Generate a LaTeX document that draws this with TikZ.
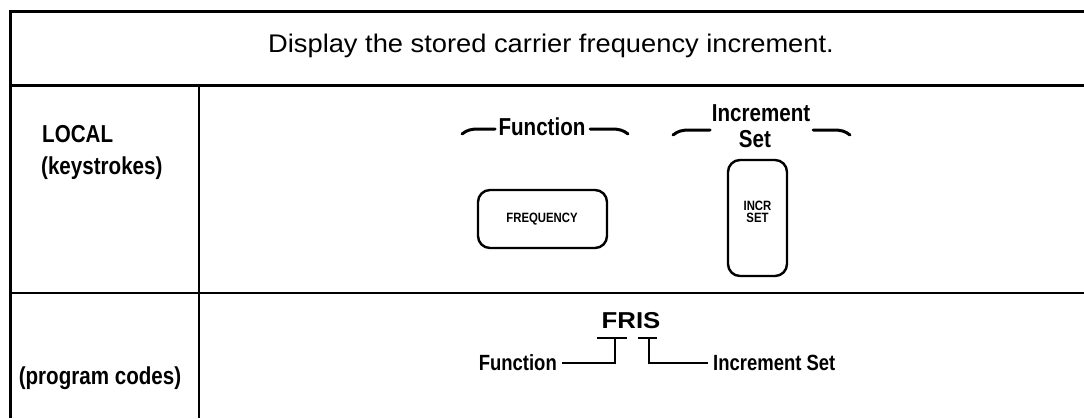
\documentclass[tikz,border=0pt]{standalone}
\usepackage{fontspec}
\setmainfont{Liberation Sans}
\newfontfamily\cf[FakeStretch=0.84]{Liberation Sans}
\newfontfamily\wf[FakeStretch=1.12]{Liberation Sans}
\newfontfamily\tf[FakeStretch=1.07]{Liberation Sans}
\begin{document}
\begin{tikzpicture}[x=1pt,y=-1pt,
  rulel/.style={line width=3pt},
  thinrule/.style={line width=2.4pt},
  lbl/.style={font=\cf\bfseries\fontsize{24.5}{26}\selectfont, inner sep=0pt, anchor=base},
  sml/.style={font=\cf\bfseries\fontsize{22}{24}\selectfont, inner sep=0pt, anchor=base},
  keybox/.style={draw, line width=2.4pt, rounded corners=12pt, inner sep=0pt},
  keytxt/.style={font=\cf\bfseries\fontsize{13.5}{14}\selectfont, inner sep=0pt, align=center},
  brk/.style={line width=3pt, line cap=round},
  codeln/.style={line width=2.6pt}]
\useasboundingbox (0,0) rectangle (1084,418);
% table frame
\draw[rulel] (10,418) -- (10,11) -- (1084,11);
\draw[rulel] (10,85) -- (1084,85);
\draw[thinrule] (10,293) -- (1084,293);
\draw[thinrule] (199,85) -- (199,418);
% title
\node[font=\tf\fontsize{25.5}{28}\selectfont, inner sep=0pt, anchor=base] (title) at (551,52) {Display the stored carrier frequency increment.};
% left column
\node[lbl, anchor=base west] (local) at (42,142) {LOCAL};
\node[lbl, anchor=base west] (keys) at (41,174) {(keystrokes)};
\node[lbl] (prog) at (100,384) {(program codes)};
% local row
\node[lbl] (fn1) at (542,135) {Function};
\node[lbl] (inc1) at (761,121) {Increment};
\node[lbl] (set1) at (755,147) {Set};
\draw[brk] (462,134) .. controls (467,130) and (471,129) .. (479,129) -- (495,129);
\draw[brk] (590,129) -- (611,129) .. controls (619,129) and (623,130) .. (628,134);
\draw[brk] (673,135) .. controls (678,131) and (682,130) .. (690,130) -- (710,130);
\draw[brk] (813,130) -- (833,130) .. controls (841,130) and (845,131) .. (850,135);
\node[keybox, minimum width=129pt, minimum height=58pt] (freq) at (542.5,219) {};
\node[keytxt] (freqtxt) at (542,219) {FREQUENCY};
\node[keybox, minimum width=59pt, minimum height=116pt] (incr) at (757.5,218) {};
\node[keytxt, font=\cf\bfseries\fontsize{13.5}{11.5}\selectfont] (incrtxt) at (757.5,212) {INCR\\SET};
% program code row
\node[font=\wf\bfseries\fontsize{23}{26}\selectfont, inner sep=0pt, anchor=base] (fris) at (631,328) {FRIS};
\node[sml, anchor=base east] (fn2) at (557,370) {Function};
\node[sml, anchor=base west] (inc2) at (713,370) {Increment Set};
\coordinate (t1a) at (597,338);
\coordinate (t1b) at (627,338);
\coordinate (t1c) at (615,338);
\coordinate (t1d) at (615,363);
\coordinate (t2a) at (638,338);
\coordinate (t2b) at (657,338);
\coordinate (t2c) at (649,338);
\coordinate (t2d) at (649,363);
\draw[codeln] (t1a) -- (t1b);
\draw[codeln] (t1c) -- (t1d) -- ([xshift=5pt]fn2.east |- t1d);
\draw[codeln] (t2a) -- (t2b);
\draw[codeln] (t2c) -- (t2d) -- ([xshift=-5pt]inc2.west |- t2d);
\end{tikzpicture}
\end{document}
